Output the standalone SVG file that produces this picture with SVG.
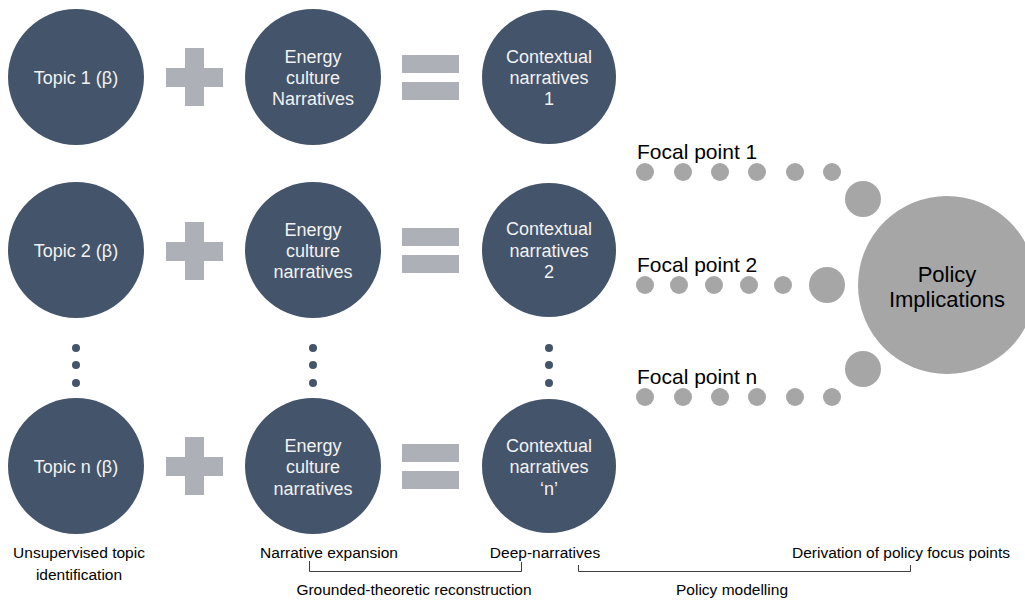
<svg xmlns="http://www.w3.org/2000/svg" width="1025" height="602" viewBox="0 0 1025 602">
<style>
.node{fill:#44546A}
.nt{fill:#F2F2F2;font-family:"Liberation Sans",Arial,sans-serif;font-size:18px;text-anchor:middle}
.op{fill:#ADB0B6}
.vd{fill:#44546A}
.fd{fill:#A6A6A6}
.ft{fill:#000;font-family:"Liberation Sans",Arial,sans-serif;font-size:21px}
.pt{fill:#000;font-family:"Liberation Sans",Arial,sans-serif;font-size:22px;text-anchor:middle}
.lb{fill:#000;font-family:"Liberation Sans",Arial,sans-serif;font-size:15.5px;text-anchor:middle}
.br{fill:none;stroke:#404040;stroke-width:1}
</style>
<rect width="1025" height="602" fill="#fff"/>

<g id="topic1"><circle class="node" cx="76" cy="77" r="68"/><text class="nt" x="76" y="84">Topic 1 (β)</text></g>
<g id="plus1" class="op"><rect x="185" y="48" width="19" height="58"/><rect x="166" y="68" width="57" height="19"/></g>
<g id="energy1"><circle class="node" cx="313" cy="77" r="68"/><text class="nt" x="313" y="63">Energy</text><text class="nt" x="313" y="84">culture</text><text class="nt" x="313" y="105">Narratives</text></g>
<g id="eq1" class="op"><rect x="402" y="55" width="57" height="18"/><rect x="402" y="82" width="57" height="18"/></g>
<g id="ctx1"><circle class="node" cx="549" cy="77" r="67"/><text class="nt" x="549" y="63">Contextual</text><text class="nt" x="549" y="84">narratives</text><text class="nt" x="549" y="105">1</text></g>

<g id="topic2"><circle class="node" cx="76" cy="250" r="68"/><text class="nt" x="76" y="257">Topic 2 (β)</text></g>
<g id="plus2" class="op"><rect x="185" y="222" width="19" height="58"/><rect x="166" y="242" width="57" height="19"/></g>
<g id="energy2"><circle class="node" cx="313" cy="250" r="68"/><text class="nt" x="313" y="236">Energy</text><text class="nt" x="313" y="257">culture</text><text class="nt" x="313" y="278">narratives</text></g>
<g id="eq2" class="op"><rect x="402" y="228" width="57" height="18"/><rect x="402" y="255" width="57" height="18"/></g>
<g id="ctx2"><circle class="node" cx="549" cy="250" r="67"/><text class="nt" x="549" y="235">Contextual</text><text class="nt" x="549" y="257">narratives</text><text class="nt" x="549" y="278">2</text></g>

<g id="vdots" class="vd">
<circle cx="76" cy="348" r="4"/><circle cx="76" cy="365" r="4"/><circle cx="76" cy="383" r="4"/>
<circle cx="313" cy="348" r="4"/><circle cx="313" cy="365" r="4"/><circle cx="313" cy="383" r="4"/>
<circle cx="549" cy="348" r="4"/><circle cx="549" cy="365" r="4"/><circle cx="549" cy="383" r="4"/>
</g>

<g id="topicn"><circle class="node" cx="76" cy="466" r="68"/><text class="nt" x="76" y="473">Topic n (β)</text></g>
<g id="plusn" class="op"><rect x="185" y="437" width="19" height="58"/><rect x="166" y="457" width="57" height="19"/></g>
<g id="energyn"><circle class="node" cx="313" cy="466" r="68"/><text class="nt" x="313" y="452">Energy</text><text class="nt" x="313" y="473">culture</text><text class="nt" x="313" y="495">narratives</text></g>
<g id="eqn" class="op"><rect x="402" y="444" width="57" height="18"/><rect x="402" y="471" width="57" height="18"/></g>
<g id="ctxn"><circle class="node" cx="549" cy="466" r="67"/><text class="nt" x="549" y="452">Contextual</text><text class="nt" x="549" y="473">narratives</text><text class="nt" x="549" y="495">‘n’</text></g>

<g id="connectors">
<g id="focal1"><text class="ft" x="637" y="159">Focal point 1</text>
<g class="fd"><circle cx="645" cy="172" r="9"/><circle cx="683" cy="172" r="9"/><circle cx="720" cy="172" r="9"/><circle cx="757" cy="172" r="9"/><circle cx="795" cy="172" r="9"/><circle cx="832" cy="172" r="9"/><circle cx="863" cy="199" r="18"/></g></g>
<g id="focal2"><text class="ft" x="637" y="272">Focal point 2</text>
<g class="fd"><circle cx="645" cy="285" r="9"/><circle cx="679" cy="285" r="9"/><circle cx="714" cy="285" r="9"/><circle cx="749" cy="285" r="9"/><circle cx="783" cy="285" r="9"/><circle cx="827" cy="285" r="18"/></g></g>
<g id="focaln"><text class="ft" x="637" y="384">Focal point n</text>
<g class="fd"><circle cx="645" cy="397" r="9"/><circle cx="683" cy="397" r="9"/><circle cx="720" cy="397" r="9"/><circle cx="757" cy="397" r="9"/><circle cx="795" cy="397" r="9"/><circle cx="832" cy="397" r="9"/><circle cx="863" cy="369" r="18"/></g></g>
<path class="br" d="M309.5 561 V571.5 H521.5 V562"/>
<path class="br" d="M578.5 565 V571.5 H910.5 V565"/>
</g>

<g id="policy"><circle class="fd" cx="947" cy="285" r="89"/><text class="pt" x="947" y="282">Policy</text><text class="pt" x="947" y="307">Implications</text></g>

<g id="labels">
<text class="lb" x="79" y="558">Unsupervised topic</text>
<text class="lb" x="79" y="580">identification</text>
<text class="lb" x="329" y="558">Narrative expansion</text>
<text class="lb" x="545" y="558">Deep-narratives</text>
<text class="lb" x="901" y="558">Derivation of policy focus points</text>
<text class="lb" x="414" y="595">Grounded-theoretic reconstruction</text>
<text class="lb" x="732" y="595">Policy modelling</text>
</g>
</svg>
